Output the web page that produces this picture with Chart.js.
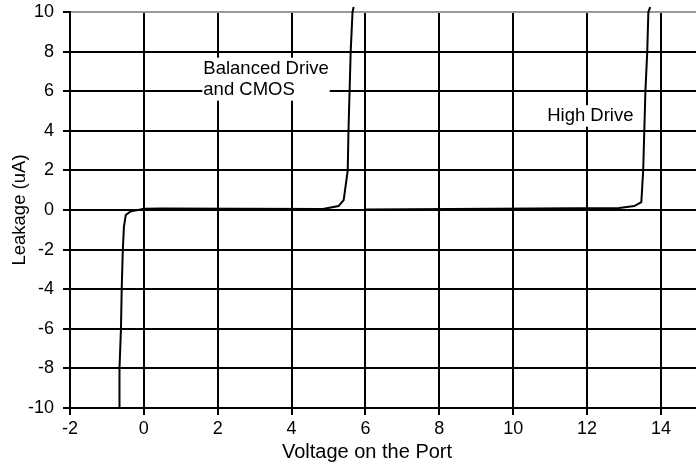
<!DOCTYPE html>
<html>
<head>
<meta charset="utf-8">
<script src="https://cdn.jsdelivr.net/npm/chart.js@4"></script>
<style>
  html, body { margin: 0; padding: 0; background: #fff; overflow: hidden; }
  #wrap { width: 696px; height: 466px; }
</style>
</head>
<body>
<div id="wrap"><canvas id="chart" width="696" height="466"></canvas></div>
<script>
// leakage curves (voltage in V, leakage in uA)
const balancedX = [-0.67, -0.66, -0.62, -0.6, -0.57, -0.54, -0.49, -0.37, 0.0, 0.45, 4.85, 5.27, 5.41, 5.52, 5.54, 5.57, 5.6, 5.65, 5.68];
const balancedY = [-10, -8, -6, -4, -2, -0.85, -0.25, -0.08, 0.06, 0.08, 0.05, 0.2, 0.5, 2, 4, 6, 8, 10, 10.25];
const highX = [6, 12.87, 13.28, 13.47, 13.52, 13.55, 13.58, 13.63, 13.66, 13.71];
const highY = [0.03, 0.1, 0.2, 0.4, 2, 4, 6, 8, 10, 10.25];

const xTicks = [-2, 0, 2, 4, 6, 8, 10, 12, 14];
const yTicks = [-10, -8, -6, -4, -2, 0, 2, 4, 6, 8, 10];

const xTitle = "Voltage on the Port";
const yTitle = "Leakage (uA)";

const curveLabels = [
  { lines: ["Balanced Drive", "and CMOS"], x: 1.61, y: 7.15 },
  { lines: ["High Drive"], x: 10.92, y: 4.75 },
];

const FONT = "Liberation Sans, Arial, sans-serif";

function toPoints(xs, ys) {
  return xs.map((x, i) => ({ x: x, y: ys[i] }));
}

// text boxes sitting on the grid, white behind so they knock the lines out
const labelPlugin = {
  id: "curveLabels",
  afterDatasetsDraw(chart) {
    const ctx = chart.ctx;
    const xs = chart.scales.x;
    const ys = chart.scales.y;
    ctx.save();
    ctx.font = "18.5px " + FONT;
    ctx.textBaseline = "middle";
    ctx.textAlign = "left";
    curveLabels.forEach(lab => {
      const px = xs.getPixelForValue(lab.x);
      const py = ys.getPixelForValue(lab.y);
      const lh = 21.5;
      const w = Math.max(...lab.lines.map(t => ctx.measureText(t).width));
      ctx.fillStyle = "#fff";
      ctx.fillRect(px - 1, py - lh / 2, w + 2, lh * lab.lines.length);
      ctx.fillStyle = "#000";
      lab.lines.forEach((t, i) => ctx.fillText(t, px, py + i * lh));
    });

    // x title sits a bit left of the plot centre in the original
    ctx.font = "20px " + FONT;
    ctx.textAlign = "center";
    ctx.fillText(xTitle, 367, 452);
    ctx.restore();
  }
};

const line = (xs, ys) => ({
  data: toPoints(xs, ys),
  showLine: true,
  borderColor: "#000",
  borderWidth: 2,
  pointRadius: 0,
  tension: 0,
  clip: false,
});

new Chart(document.getElementById("chart"), {
  type: "scatter",
  data: {
    datasets: [line(balancedX, balancedY), line(highX, highY)],
  },
  options: {
    responsive: false,
    animation: false,
    layout: { padding: { top: 12, right: 0, left: 0, bottom: 0 } },
    plugins: { legend: { display: false }, tooltip: { enabled: false } },
    scales: {
      x: {
        type: "linear",
        min: -2,
        max: 14.95,
        afterBuildTicks: s => { s.ticks = xTicks.map(v => ({ value: v })); },
        afterFit: s => { s.height = 58; s.paddingLeft = 0; s.paddingRight = 0; },
        grid: { color: "#000", lineWidth: 2, tickLength: 7, tickColor: "#000" },
        border: { display: true, color: "#000", width: 2 },
        ticks: { color: "#000", font: { family: FONT, size: 18 }, padding: 3, maxRotation: 0 },
        title: { display: false },
      },
      y: {
        type: "linear",
        min: -10,
        max: 10,
        afterBuildTicks: s => { s.ticks = yTicks.map(v => ({ value: v })); },
        afterFit: s => { s.width = 70; s.paddingTop = 0; s.paddingBottom = 0; },
        grid: {
          color: c => (c.tick && c.tick.value === 10 ? "#999" : "#000"),
          lineWidth: 2,
          tickLength: 7,
          tickColor: "#000",
        },
        border: { display: true, color: "#000", width: 2 },
        ticks: { color: "#000", font: { family: FONT, size: 18 }, padding: 9 },
        title: {
          display: true,
          text: yTitle,
          color: "#000",
          font: { family: FONT, size: 18.5 },
          padding: { top: 9, bottom: 4 },
        },
      },
    },
  },
  plugins: [labelPlugin],
});
</script>
</body>
</html>
